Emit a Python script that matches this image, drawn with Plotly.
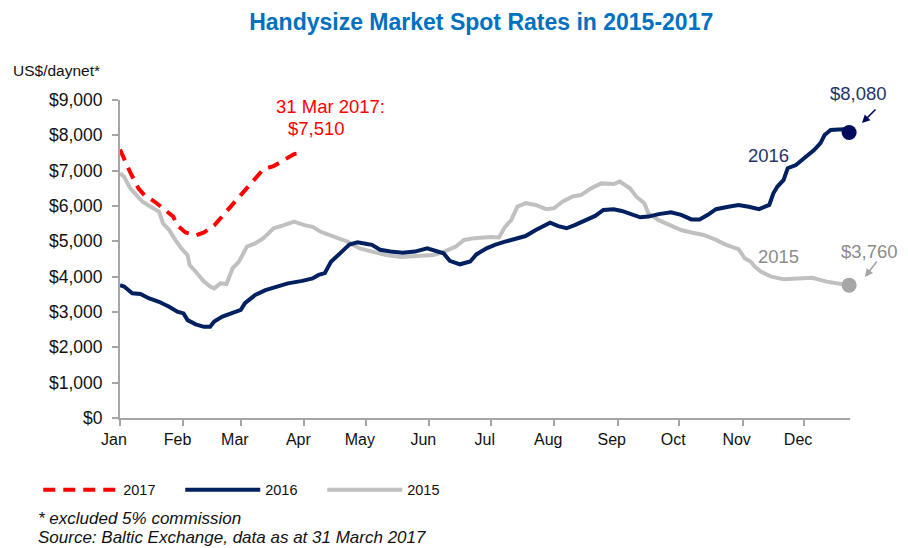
import pandas as pd
import plotly.graph_objects as go

# ---- data (day offset from 1 Jan, rate in US$/day net) ----
day_2017 = [0, 3, 5, 9, 12, 17, 20, 26, 28, 32, 37, 41, 46, 51, 54, 60, 65, 70, 75, 80, 85, 89]
rate_2017 = [7600, 7200, 6950, 6500, 6300, 6120, 5980, 5700, 5450, 5250, 5170, 5250, 5450, 5790,
             5980, 6400, 6740, 7040, 7130, 7300, 7470, 7510]

day_2016 = [0, 2, 6, 10, 14, 19, 24, 28, 31, 33, 37, 41, 44, 46, 50, 55, 59, 61, 66, 71,
            76, 82, 89, 94, 97, 100, 103, 106, 110, 112, 116, 120, 123, 127, 132, 138, 144, 150, 155, 158,
            161, 166, 171, 174, 179, 183, 188, 193, 198, 203, 208, 210, 214, 218, 222, 227, 232, 236, 241, 245,
            250, 254, 258, 263, 269, 274, 279, 283, 287, 291, 297, 302, 307, 312, 317, 319, 321, 324, 326, 330,
            334, 339, 342, 344, 347, 350, 353, 356]
rate_2016 = [3760, 3720, 3530, 3510, 3390, 3290, 3150, 3010, 2960, 2770,
             2650, 2580, 2580, 2730, 2870, 2980, 3060, 3250, 3480, 3620,
             3720, 3810, 3880, 3950, 4050, 4100, 4420, 4570, 4800, 4910,
             4970, 4930, 4900, 4760, 4710, 4680, 4710, 4800, 4710, 4660,
             4450, 4350, 4430, 4630, 4800, 4900, 4990, 5060, 5150, 5320,
             5460, 5530, 5430, 5370, 5460, 5580, 5720, 5890, 5910, 5860,
             5750, 5680, 5700, 5770, 5820, 5750, 5620, 5620, 5750, 5910,
             5980, 6030, 5980, 5910, 6030, 6360, 6550, 6740, 7070, 7160,
             7350, 7590, 7780, 8010, 8150, 8170, 8170, 8080]

day_2015 = [0, 2, 5, 8, 11, 15, 19, 21, 24, 27, 30, 33, 34, 37, 41, 44, 46, 49, 52, 55,
            58, 62, 66, 70, 75, 80, 85, 90, 94, 98, 104, 111, 117, 124, 130, 137, 145, 153, 158, 164,
            168, 173, 181, 185, 188, 191, 194, 198, 203, 208, 212, 216, 221, 225, 230, 235, 241, 244, 249, 252,
            256, 258, 263, 269, 274, 279, 285, 291, 296, 302, 305, 308, 310, 313, 318, 324, 332, 338, 345, 352,
            356]
rate_2015 = [6930, 6830, 6500, 6310, 6120, 5980, 5840, 5510, 5320, 5040,
             4800, 4610, 4330, 4140, 3860, 3720, 3670, 3810, 3790, 4240,
             4420, 4850, 4940, 5090, 5370, 5460, 5560, 5460, 5410, 5270,
             5130, 4990, 4800, 4710, 4610, 4560, 4580, 4610, 4700, 4850,
             5040, 5090, 5120, 5110, 5410, 5600, 5980, 6080, 6030, 5910,
             5940, 6120, 6270, 6310, 6500, 6640, 6620, 6690, 6500, 6270,
             6080, 5790, 5600, 5460, 5320, 5250, 5180, 5040, 4900, 4780,
             4520, 4420, 4280, 4140, 4000, 3930, 3950, 3970, 3860, 3790,
             3760]

y_tick_vals = [0, 1000, 2000, 3000, 4000, 5000, 6000, 7000, 8000, 9000]
y_tick_text = ["$0", "$1,000", "$2,000", "$3,000", "$4,000", "$5,000", "$6,000", "$7,000",
               "$8,000", "$9,000"]

FONT = "Liberation Sans, Arial, sans-serif"
C17 = "#ff0000"
C16 = "#002060"
C15 = "#c0c0c0"

base = pd.Timestamp("2001-01-01")


def to_dates(days):
    return base + pd.to_timedelta(days, unit="D")


x15, x16, x17 = to_dates(day_2015), to_dates(day_2016), to_dates(day_2017)

fig = go.Figure()
fig.add_trace(go.Scatter(x=x15, y=rate_2015, mode="lines", name="2015", legendrank=3,
                         line=dict(color=C15, width=4)))
fig.add_trace(go.Scatter(x=x16, y=rate_2016, mode="lines", name="2016", legendrank=2,
                         line=dict(color=C16, width=4)))
fig.add_trace(go.Scatter(x=x17, y=rate_2017, mode="lines", name="2017", legendrank=1,
                         line=dict(color=C17, width=4, dash="12px,8px")))
# end-point dots
fig.add_trace(go.Scatter(x=[x16[-1]], y=[rate_2016[-1]], mode="markers", showlegend=False,
                         marker=dict(color="#000a5c", size=15), cliponaxis=False))
fig.add_trace(go.Scatter(x=[x15[-1]], y=[rate_2015[-1]], mode="markers", showlegend=False,
                         marker=dict(color="#a6a6a6", size=15), cliponaxis=False))

AX = "#a6a6a6"
fig.update_xaxes(range=["2001-01-01", "2001-12-23 10:00"], type="date",
                 tick0="2001-01-01", dtick="M1", tickformat="%b",
                 showline=True, linecolor=AX, linewidth=2, showgrid=False, zeroline=False,
                 ticks="outside", ticklen=6, tickwidth=2, tickcolor=AX,
                 tickfont=dict(family=FONT, size=16, color="#111"), ticklabelshift=-6)
fig.update_yaxes(range=[0, 9000], tickvals=y_tick_vals, ticktext=y_tick_text,
                 showline=True, linecolor=AX, linewidth=2, showgrid=False, zeroline=False,
                 ticks="outside", ticklen=6, tickwidth=2, tickcolor=AX, ticklabelstandoff=6,
                 tickfont=dict(family=FONT, size=17.5, color="#111"))

ann = []
# text labels
ann.append(dict(text="31 Mar 2017:", x=0.2877, y=0.981, font=dict(size=18.5, color=C17)))
ann.append(dict(text="$7,510", x=0.2685, y=0.909, font=dict(size=18.5, color=C17)))
ann.append(dict(text="2016", x=0.8877, y=0.827, font=dict(size=18.5, color="#1f3569")))
ann.append(dict(text="$8,080", x=1.012, y=1.019, font=dict(size=18.5, color="#1f3569")))
ann.append(dict(text="2015", x=0.902, y=0.509, font=dict(size=18.5, color="#8c8c8c")))
ann.append(dict(text="$3,760", x=1.027, y=0.524, font=dict(size=18.5, color="#8c8c8c")))
for a in ann:
    a.update(xref="paper", yref="paper", showarrow=False, xanchor="center", yanchor="middle")
    a["font"]["family"] = FONT

ann.append(dict(text="US$/daynet*", x=-0.150, y=1.094, xref="paper", yref="paper", showarrow=False,
                xanchor="left", yanchor="middle", font=dict(family=FONT, size=15.5, color="#111")))
ann.append(dict(text="<i>* excluded 5% commission</i>", x=-0.1150, y=-0.3145, xref="paper", yref="paper",
                showarrow=False, xanchor="left", yanchor="middle",
                font=dict(family=FONT, size=17, color="#111")))
ann.append(dict(text="<i>Source: Baltic Exchange, data as at 31 March 2017</i>", x=-0.1150, y=-0.377,
                xref="paper", yref="paper", showarrow=False, xanchor="left", yanchor="middle",
                font=dict(family=FONT, size=17, color="#111")))
# arrows
ann.append(dict(text="", x=1.0164, y=0.9277, xref="paper", yref="paper", showarrow=True,
                ax=15, ay=-15, arrowhead=2, arrowsize=1, arrowwidth=1.6, arrowcolor="#000a5c", standoff=0))
ann.append(dict(text="", x=1.0205, y=0.4434, xref="paper", yref="paper", showarrow=True,
                ax=13, ay=-17, arrowhead=2, arrowsize=1, arrowwidth=1.6, arrowcolor="#a6a6a6", standoff=0))

fig.update_layout(
    width=908, height=548,
    margin=dict(l=120, r=58, t=100, b=130),
    paper_bgcolor="white", plot_bgcolor="white",
    title=dict(text="<b>Handysize Market Spot Rates in 2015-2017</b>", x=0.53, xanchor="center",
               y=0.96, yanchor="middle", yref="container",
               font=dict(family=FONT, size=23, color="#0070c0")),
    showlegend=True,
    legend=dict(orientation="h", x=-0.112, y=-0.226, xanchor="left", yanchor="middle",
                itemwidth=75, font=dict(family=FONT, size=14.5, color="#111"),
                entrywidth=52, entrywidthmode="pixels", tracegroupgap=0),
    annotations=ann,
)

fig.write_html("out.html", config={"displayModeBar": False},
               post_script="document.body.style.margin='0';document.body.style.overflow='hidden';")
